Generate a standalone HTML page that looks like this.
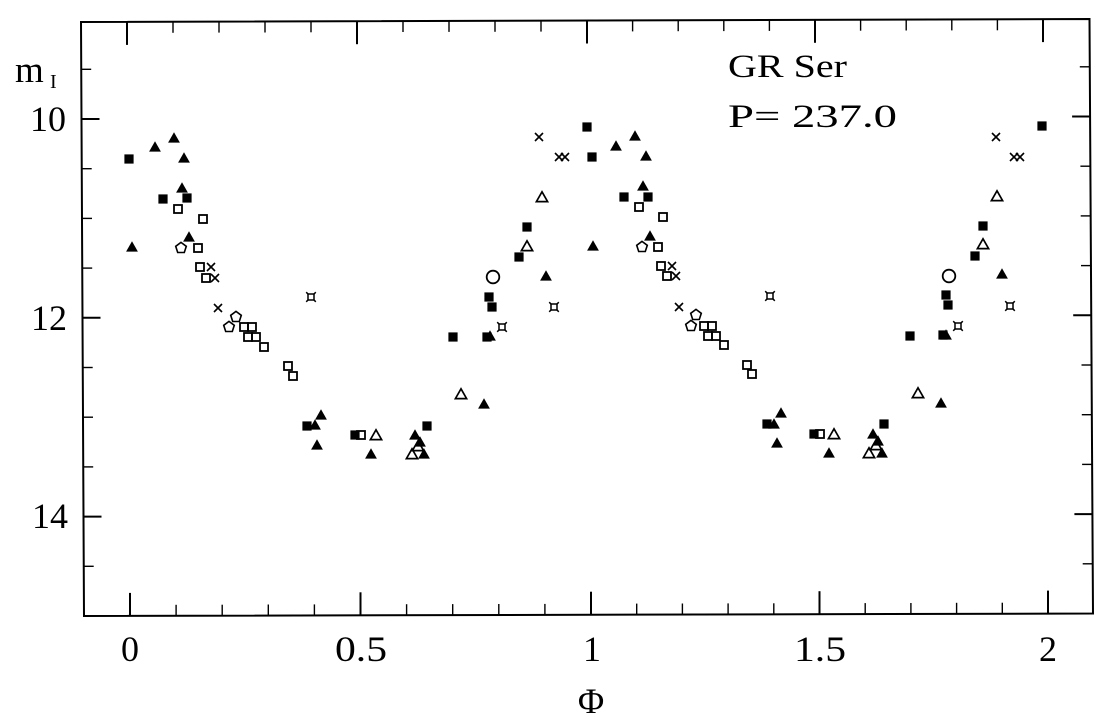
<!DOCTYPE html>
<html>
<head>
<meta charset="utf-8">
<style>
html,body{margin:0;padding:0;background:#fff;}
svg{display:block;}
text{font-family:"Liberation Serif","DejaVu Serif",serif;fill:#000;}
</style>
</head>
<body>
<svg width="1120" height="728" viewBox="0 0 1120 728" xmlns="http://www.w3.org/2000/svg">
<defs>
  <rect id="fs" x="-4.6" y="-4.6" width="9.2" height="9.2" fill="#000"/>
  <path id="ft" d="M0,-5.8 L5.9,4.6 L-5.9,4.6Z" fill="#000"/>
  <rect id="os" x="-4" y="-4" width="8" height="8" fill="none" stroke="#000" stroke-width="1.8"/>
  <path id="op" d="M0,-5.6 L5.3,-1.7 L3.3,4.5 L-3.3,4.5 L-5.3,-1.7Z" fill="none" stroke="#000" stroke-width="1.6"/>
  <path id="xx" d="M-4,-4 L4,4 M4,-4 L-4,4" fill="none" stroke="#000" stroke-width="1.6"/>
  <circle id="oc" r="6.3" fill="none" stroke="#000" stroke-width="1.8"/>
  <path id="ot" d="M0,-5.2 L5.6,4.6 L-5.6,4.6Z" fill="none" stroke="#000" stroke-width="1.7"/>
  <g id="st" fill="none" stroke="#000" stroke-width="1.5">
    <rect x="-3" y="-3" width="6" height="6"/>
    <path d="M-3,-3 L-4.8,-4.8 M3,-3 L4.8,-4.8 M3,3 L4.8,4.8 M-3,3 L-4.8,4.8"/>
  </g>
</defs>

<!-- frame -->
<path d="M81,22 L1089.5,19 L1093,613.5 L84,616 Z" fill="none" stroke="#000" stroke-width="2"/>

<!-- bottom ticks -->
<g stroke="#000" stroke-width="1.4">
<line x1="176.1" y1="615.8" x2="176.1" y2="604.8"/>
<line x1="222.2" y1="615.7" x2="222.2" y2="604.7"/>
<line x1="268.3" y1="615.5" x2="268.3" y2="604.5"/>
<line x1="314.4" y1="615.4" x2="314.4" y2="604.4"/>
<line x1="406.6" y1="615.2" x2="406.6" y2="604.2"/>
<line x1="452.7" y1="615.1" x2="452.7" y2="604.1"/>
<line x1="498.8" y1="615.0" x2="498.8" y2="604.0"/>
<line x1="544.9" y1="614.9" x2="544.9" y2="603.9"/>
<line x1="636.7" y1="614.6" x2="636.7" y2="603.6"/>
<line x1="682.4" y1="614.5" x2="682.4" y2="603.5"/>
<line x1="728.1" y1="614.4" x2="728.1" y2="603.4"/>
<line x1="773.8" y1="614.3" x2="773.8" y2="603.3"/>
<line x1="865.2" y1="614.1" x2="865.2" y2="603.1"/>
<line x1="910.9" y1="614.0" x2="910.9" y2="603.0"/>
<line x1="956.6" y1="613.8" x2="956.6" y2="602.8"/>
<line x1="1002.3" y1="613.7" x2="1002.3" y2="602.7"/>
</g>
<g stroke="#000" stroke-width="2">
<line x1="130" y1="615.9" x2="130" y2="592.9"/>
<line x1="360.5" y1="615.3" x2="360.5" y2="592.3"/>
<line x1="591" y1="614.7" x2="591" y2="591.7"/>
<line x1="819.5" y1="614.2" x2="819.5" y2="591.2"/>
<line x1="1048" y1="613.6" x2="1048" y2="590.6"/>
</g>

<!-- top ticks -->
<g stroke="#000" stroke-width="1.4">
<line x1="173" y1="21.8" x2="173" y2="32.8"/>
<line x1="219" y1="21.6" x2="219" y2="32.6"/>
<line x1="265" y1="21.5" x2="265" y2="32.5"/>
<line x1="311" y1="21.3" x2="311" y2="32.3"/>
<line x1="403" y1="21.0" x2="403" y2="32.0"/>
<line x1="449" y1="20.9" x2="449" y2="31.9"/>
<line x1="495" y1="20.8" x2="495" y2="31.8"/>
<line x1="541" y1="20.6" x2="541" y2="31.6"/>
<line x1="632.6" y1="20.4" x2="632.6" y2="31.4"/>
<line x1="678.2" y1="20.2" x2="678.2" y2="31.2"/>
<line x1="723.8" y1="20.1" x2="723.8" y2="31.1"/>
<line x1="769.4" y1="19.9" x2="769.4" y2="30.9"/>
<line x1="860.6" y1="19.7" x2="860.6" y2="30.7"/>
<line x1="906.2" y1="19.5" x2="906.2" y2="30.5"/>
<line x1="951.8" y1="19.4" x2="951.8" y2="30.4"/>
<line x1="997.4" y1="19.3" x2="997.4" y2="30.3"/>
</g>
<g stroke="#000" stroke-width="2">
<line x1="127" y1="21.9" x2="127" y2="44.9"/>
<line x1="357" y1="21.2" x2="357" y2="44.2"/>
<line x1="587" y1="20.5" x2="587" y2="43.5"/>
<line x1="815" y1="19.8" x2="815" y2="42.8"/>
<line x1="1043" y1="19.1" x2="1043" y2="42.1"/>
</g>

<!-- left ticks -->
<g stroke="#000" stroke-width="1.4">
<line x1="81.2" y1="69.3" x2="91.2" y2="69.3"/>
<line x1="81.7" y1="168.7" x2="91.7" y2="168.7"/>
<line x1="82.0" y1="218.4" x2="92.0" y2="218.4"/>
<line x1="82.2" y1="268.1" x2="92.2" y2="268.1"/>
<line x1="82.7" y1="367.5" x2="92.7" y2="367.5"/>
<line x1="83.0" y1="417.2" x2="93.0" y2="417.2"/>
<line x1="83.2" y1="466.9" x2="93.2" y2="466.9"/>
<line x1="83.7" y1="566.3" x2="93.7" y2="566.3"/>
</g>
<g stroke="#000" stroke-width="2">
<line x1="81.5" y1="119" x2="99.5" y2="119"/>
<line x1="82.5" y1="317.8" x2="100.5" y2="317.8"/>
<line x1="83.5" y1="516.6" x2="101.5" y2="516.6"/>
</g>

<!-- right ticks -->
<g stroke="#000" stroke-width="1.4">
<line x1="1089.8" y1="66.8" x2="1079.8" y2="66.8"/>
<line x1="1090.4" y1="166.2" x2="1080.4" y2="166.2"/>
<line x1="1090.7" y1="215.9" x2="1080.7" y2="215.9"/>
<line x1="1091.0" y1="265.6" x2="1081.0" y2="265.6"/>
<line x1="1091.5" y1="365.0" x2="1081.5" y2="365.0"/>
<line x1="1091.8" y1="414.7" x2="1081.8" y2="414.7"/>
<line x1="1092.1" y1="464.4" x2="1082.1" y2="464.4"/>
<line x1="1092.7" y1="563.8" x2="1082.7" y2="563.8"/>
</g>
<g stroke="#000" stroke-width="2">
<line x1="1090.1" y1="116.5" x2="1072.1" y2="116.5"/>
<line x1="1091.2" y1="315.3" x2="1073.2" y2="315.3"/>
<line x1="1092.4" y1="514.1" x2="1074.4" y2="514.1"/>
</g>

<!-- tick labels -->
<g font-size="36">
<text x="66" y="131" text-anchor="end">10</text>
<text x="67" y="330" text-anchor="end">12</text>
<text x="68" y="528" text-anchor="end">14</text>
<text x="130" y="661" text-anchor="middle">0</text>
<text x="361" y="661" text-anchor="middle" textLength="52" lengthAdjust="spacingAndGlyphs">0.5</text>
<text x="592" y="661" text-anchor="middle">1</text>
<text x="820" y="661" text-anchor="middle" textLength="52" lengthAdjust="spacingAndGlyphs">1.5</text>
<text x="1048" y="661" text-anchor="middle">2</text>
</g>

<!-- axis labels -->
<text x="15" y="82" font-size="37">m</text>
<text x="50" y="88" font-size="20">I</text>
<text x="591" y="713" font-size="36" text-anchor="middle">Φ</text>

<!-- annotation -->
<text x="728" y="77" font-size="33" textLength="119" lengthAdjust="spacingAndGlyphs">GR Ser</text>
<text x="728" y="127" font-size="33" textLength="169" lengthAdjust="spacingAndGlyphs">P=  237.0</text>

<!-- data copy 1 -->
<g>
<use href="#fs" x="129" y="159"/>
<use href="#fs" x="163" y="199"/>
<use href="#fs" x="187" y="198"/>
<use href="#fs" x="307" y="426"/>
<use href="#fs" x="355" y="435"/>
<use href="#fs" x="427" y="426"/>
<use href="#fs" x="453" y="337"/>
<use href="#fs" x="527" y="227"/>
<use href="#fs" x="519" y="257"/>
<use href="#fs" x="489" y="297"/>
<use href="#fs" x="492" y="307"/>
<use href="#fs" x="487" y="337"/>
<use href="#fs" x="587" y="127"/>

<use href="#ft" x="155" y="147"/>
<use href="#ft" x="174" y="138"/>
<use href="#ft" x="184" y="158"/>
<use href="#ft" x="182" y="188"/>
<use href="#ft" x="189" y="237"/>
<use href="#ft" x="132" y="247"/>
<use href="#ft" x="321" y="415"/>
<use href="#ft" x="315" y="425"/>
<use href="#ft" x="317" y="445"/>
<use href="#ft" x="371" y="454"/>
<use href="#ft" x="415" y="435"/>
<use href="#ft" x="420" y="442"/>
<use href="#ft" x="424" y="454"/>
<use href="#ft" x="546" y="276"/>
<use href="#ft" x="484" y="404"/>
<use href="#ft" x="490" y="336"/>

<use href="#os" x="178" y="209"/>
<use href="#os" x="203" y="219"/>
<use href="#os" x="198" y="248"/>
<use href="#os" x="200" y="267"/>
<use href="#os" x="206" y="278"/>
<use href="#os" x="244" y="327"/>
<use href="#os" x="252" y="327"/>
<use href="#os" x="248" y="337"/>
<use href="#os" x="256" y="337"/>
<use href="#os" x="264" y="347"/>
<use href="#os" x="288" y="366"/>
<use href="#os" x="293" y="376"/>
<use href="#os" x="361" y="435"/>

<use href="#op" x="181" y="248"/>
<use href="#op" x="236" y="317"/>
<use href="#op" x="229" y="327"/>

<use href="#xx" x="211" y="267"/>
<use href="#xx" x="215" y="278"/>
<use href="#xx" x="218" y="308"/>
<use href="#xx" x="539" y="137"/>
<use href="#xx" x="559" y="157"/>
<use href="#xx" x="565" y="157"/>

<use href="#oc" x="493" y="277"/>

<use href="#ot" x="376" y="435"/>
<use href="#ot" x="418" y="446"/>
<use href="#ot" x="412" y="454"/>
<use href="#ot" x="542" y="197"/>
<use href="#ot" x="527" y="246"/>
<use href="#ot" x="461" y="394"/>

<use href="#st" x="311" y="297"/>
<use href="#st" x="554" y="307"/>
<use href="#st" x="502" y="327"/>
</g>

<!-- data copy 2 -->
<g>
<use href="#fs" x="592" y="157"/>
<use href="#fs" x="624" y="197"/>
<use href="#fs" x="648" y="197"/>
<use href="#fs" x="767" y="424"/>
<use href="#fs" x="814" y="434"/>
<use href="#fs" x="884" y="424"/>
<use href="#fs" x="910" y="336"/>
<use href="#fs" x="983" y="226"/>
<use href="#fs" x="975" y="256"/>
<use href="#fs" x="946" y="295"/>
<use href="#fs" x="948" y="305"/>
<use href="#fs" x="943" y="335"/>
<use href="#fs" x="1042" y="126"/>

<use href="#ft" x="616" y="146"/>
<use href="#ft" x="635" y="136"/>
<use href="#ft" x="646" y="156"/>
<use href="#ft" x="643" y="186"/>
<use href="#ft" x="650" y="236"/>
<use href="#ft" x="593" y="246"/>
<use href="#ft" x="781" y="413"/>
<use href="#ft" x="774" y="424"/>
<use href="#ft" x="777" y="443"/>
<use href="#ft" x="829" y="453"/>
<use href="#ft" x="873" y="434"/>
<use href="#ft" x="878" y="441"/>
<use href="#ft" x="882" y="453"/>
<use href="#ft" x="1002" y="274"/>
<use href="#ft" x="941" y="403"/>
<use href="#ft" x="946" y="335"/>

<use href="#os" x="639" y="207"/>
<use href="#os" x="663" y="217"/>
<use href="#os" x="658" y="247"/>
<use href="#os" x="661" y="266"/>
<use href="#os" x="667" y="276"/>
<use href="#os" x="704" y="326"/>
<use href="#os" x="712" y="326"/>
<use href="#os" x="708" y="336"/>
<use href="#os" x="716" y="336"/>
<use href="#os" x="724" y="345"/>
<use href="#os" x="747" y="365"/>
<use href="#os" x="752" y="374"/>
<use href="#os" x="820" y="434"/>

<use href="#op" x="642" y="247"/>
<use href="#op" x="696" y="315"/>
<use href="#op" x="691" y="326"/>

<use href="#xx" x="672" y="266"/>
<use href="#xx" x="676" y="276"/>
<use href="#xx" x="679" y="307"/>
<use href="#xx" x="996" y="137"/>
<use href="#xx" x="1014" y="157"/>
<use href="#xx" x="1020" y="157"/>

<use href="#oc" x="949" y="276"/>

<use href="#ot" x="834" y="434"/>
<use href="#ot" x="876" y="445"/>
<use href="#ot" x="869" y="453"/>
<use href="#ot" x="997" y="196"/>
<use href="#ot" x="983" y="244"/>
<use href="#ot" x="918" y="393"/>

<use href="#st" x="770" y="296"/>
<use href="#st" x="1010" y="306"/>
<use href="#st" x="958" y="326"/>
</g>
</svg>
</body>
</html>
